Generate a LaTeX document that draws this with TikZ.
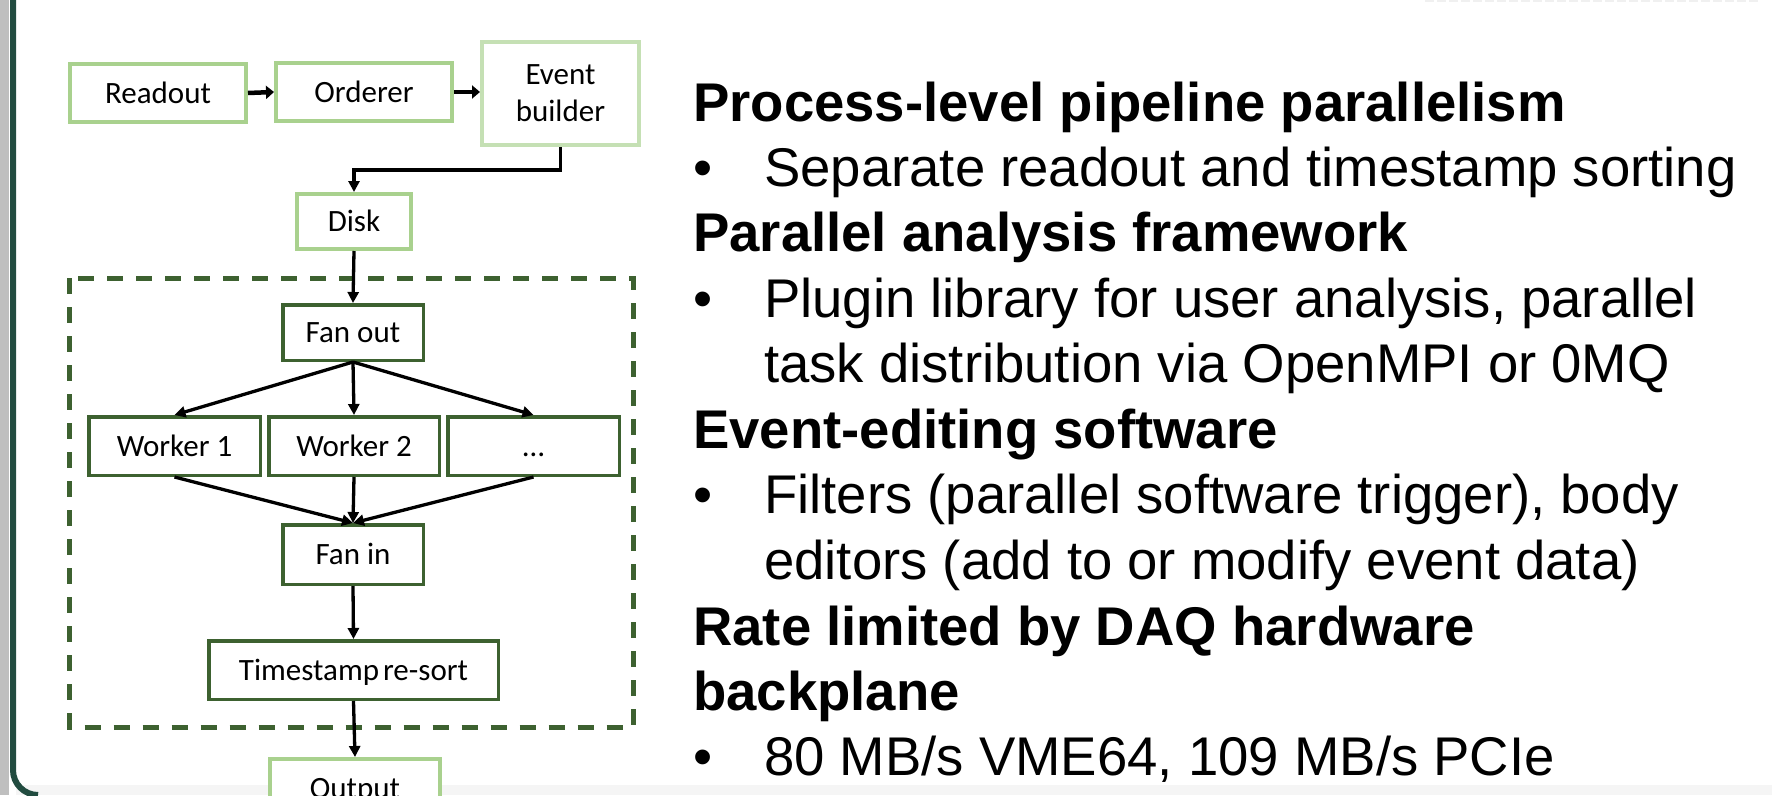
\documentclass[tikz,border=0pt]{standalone}
\usepackage{fontspec}
\newfontfamily\boxfont{Carlito}
\newfontfamily\slidefont{Liberation Sans}
\usetikzlibrary{arrows.meta}
\definecolor{lgreen}{HTML}{A9D18E}
\definecolor{llgreen}{HTML}{C5E0B4}
\definecolor{dgreen}{HTML}{3D6130}
\definecolor{frameteal}{HTML}{224C40}
\tikzset{
  boxbase/.style={rectangle, fill=white, inner sep=0pt, text=black,
    font=\boxfont\fontsize{31}{37}\selectfont},
  lgbox/.style={boxbase, draw=lgreen, line width=4pt, text height=20pt, text depth=0pt},
  ebbox/.style={boxbase, draw=llgreen, line width=4pt, align=center},
  dgbox/.style={boxbase, draw=dgreen, line width=3.5pt, text height=20pt, text depth=0pt},
  arr/.style={draw=black, line width=3.3pt, -{Triangle[length=11pt,width=11pt]}},
  harr/.style={draw=black, line width=4.5pt, -{Triangle[length=8pt,width=13pt]}},
  dashbox/.style={draw=dgreen, line width=5pt, dash pattern=on 16pt off 13pt},
  headtext/.style={anchor=base west, inner sep=0pt, font=\slidefont\bfseries\fontsize{54.5}{60}\selectfont},
  bodytext/.style={anchor=base west, inner sep=0pt, font=\slidefont\fontsize{54.5}{60}\selectfont},
}
\begin{document}
\begin{tikzpicture}[x=1pt,y=-1pt]
\useasboundingbox (0,0) rectangle (1772,795);
% frame
\fill[white] (0,0) rectangle (1772,795);
\fill[gray!8] (16,785) rectangle (1772,795);
\fill[gray!50] (0,0) rectangle (9,795);
\draw[frameteal, line width=6pt] (13,-5) -- (13,770) arc[start angle=180, end angle=90, radius=25];
\draw[gray!12, line width=1.5pt, dash pattern=on 9pt off 3pt] (1425,1) -- (1758,1);
% dashed group
\draw[dashbox] (69.5,278) rectangle (633,727);
% boxes
\node[lgbox, minimum width=176pt, minimum height=58pt] (readout) at (158,93) {Readout};
\node[lgbox, minimum width=176pt, minimum height=58pt] (orderer) at (364,92) {Orderer};
\node[ebbox, minimum width=157pt, minimum height=103pt] (eb) at (560.5,93.5) {Event\\builder};
\node[lgbox, minimum width=114pt, minimum height=55pt] (disk) at (354,221.5) {Disk};
\node[dgbox, minimum width=140.5pt, minimum height=55.5pt] (fanout) at (353,332.5) {Fan out};
\node[dgbox, minimum width=171.5pt, minimum height=58.5pt] (w1) at (174.5,446) {Worker 1};
\node[dgbox, minimum width=170.5pt, minimum height=58.5pt] (w2) at (354,446) {Worker 2};
\node[dgbox, minimum width=171.5pt, minimum height=58.5pt] (wn) at (533.5,446) {…};
\node[dgbox, minimum width=140.5pt, minimum height=59.5pt] (fanin) at (353,554.5) {Fan in};
\node[dgbox, minimum width=289.5pt, minimum height=58.5pt] (ts) at (353.5,670) {Timestamp\hspace{-3pt} re-sort};
\node[lgbox, minimum width=170pt, minimum height=58pt] (output) at (355,788) {Output};
\coordinate (elb) at (354,170);
% connectors
\draw[harr] (readout.east) -- (orderer.west);
\draw[harr] (orderer.east) -- (eb.west |- orderer.east);
\draw[arr] (eb.south) |- (elb) -- (disk.north);
\draw[arr] (disk.south) -- (fanout.north);
\draw[arr] (fanout.south) -- (w1.north);
\draw[arr] (fanout.south) -- (w2.north);
\draw[arr] (fanout.south) -- (wn.north);
\draw[arr] (w1.south) -- (fanin.north);
\draw[arr] (w2.south) -- (fanin.north);
\draw[arr] (wn.south) -- (fanin.north);
\draw[arr] (fanin.south) -- (ts.north);
\draw[arr] (ts.south) -- (output.north);
% text
\node[headtext] (h1) at (693,121) {Process-level pipeline parallelism};
\node[bodytext] (u1) at (693.5,186) {•};
\node[bodytext] (b1) at (764,186) {Separate readout and timestamp sorting};
\node[headtext] (h2) at (693,251) {Parallel analysis framework};
\node[bodytext] (u2) at (693.5,317) {•};
\node[bodytext] (b2a) at (764,317) {Plugin library for user analysis, parallel};
\node[bodytext] (b2b) at (764,382) {task distribution via OpenMPI or 0MQ};
\node[headtext] (h3) at (693,448) {Event-editing software};
\node[bodytext] (u3) at (693.5,513) {•};
\node[bodytext] (b3a) at (764,513) {Filters (parallel software trigger), body};
\node[bodytext] (b3b) at (764,579) {editors (add to or modify event data)};
\node[headtext] (h4a) at (693,645) {Rate limited by DAQ hardware};
\node[headtext] (h4b) at (693,710) {backplane};
\node[bodytext] (u4) at (693.5,775) {•};
\node[bodytext] (b4) at (764,775) {80 MB/s VME64, 109 MB/s PCIe};
\end{tikzpicture}
\end{document}
